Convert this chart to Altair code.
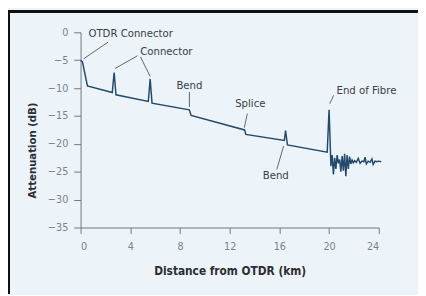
import altair as alt
import pandas as pd

# Trace (distance km, attenuation dB)
trace_km = [0.0, 0.15, 0.55, 2.55, 2.7, 2.85, 5.45, 5.6, 5.75, 8.75, 8.9,
            13.2, 13.3, 16.4, 16.5, 16.65, 19.85, 20.0,
            20.15, 20.25, 20.35, 20.45, 20.55, 20.65, 20.75, 20.85, 20.95,
            21.05, 21.15, 21.25, 21.35, 21.45, 21.55, 21.65, 21.75, 21.85,
            21.95, 22.05, 22.2, 22.35, 22.5, 22.65, 22.8, 22.9, 23.0, 23.15,
            23.3, 23.45, 23.55, 23.7, 23.85, 24.0, 24.2]
trace_db = [-5.0, -5.3, -9.6, -10.8, -7.2, -11.2, -12.4, -8.4, -12.7, -13.9, -14.9,
            -17.5, -18.3, -19.4, -17.6, -20.2, -21.5, -13.9,
            -24.0, -22.0, -25.5, -22.5, -24.5, -22.0, -23.5, -22.8, -25.0,
            -22.2, -24.8, -21.8, -25.8, -22.0, -24.5, -22.3, -23.6, -22.9,
            -23.4, -23.0, -23.3, -22.6, -23.5, -23.1, -23.2, -22.4, -23.6, -23.1,
            -23.3, -22.7, -23.7, -23.1, -23.2, -23.1, -23.2]

# Annotation labels
label_text = ["OTDR Connector", "Connector", "Bend", "Splice", "Bend", "End of Fibre"]
label_km = [0.63, 4.8, 8.76, 13.66, 15.71, 20.6]
label_db = [-0.4, -3.6, -9.7, -12.8, -25.85, -10.55]
label_align = ["left", "left", "center", "center", "center", "left"]

# Leader lines
lead_x1 = [0.24, 2.76, 4.82, 8.76, 13.42, 16.34, 20.05]
lead_y1 = [-4.75, -6.5, -4.4, -10.7, -14.6, -20.4, -12.8]
lead_x2 = [2.21, 4.58, 5.6, 8.76, 13.18, 15.79, 20.37]
lead_y2 = [-1.76, -4.2, -7.9, -13.4, -17.1, -24.6, -11.3]

x_ticks = [0, 4, 8, 12, 16, 20, 24]
y_ticks = [-35, -30, -25, -20, -15, -10, -5, 0]

FONT = "Liberation Sans Narrow, DejaVu Sans Condensed, sans-serif"

df_trace = pd.DataFrame({"km": trace_km, "db": trace_db})
df_lab = pd.DataFrame({"t": label_text, "km": label_km, "db": label_db, "a": label_align})
df_lead = pd.DataFrame({"x": lead_x1, "y": lead_y1, "x2": lead_x2, "y2": lead_y2})

xs = alt.Scale(domain=[0, 24], nice=False, zero=False)
ys = alt.Scale(domain=[-35, 0], nice=False, zero=False)

xaxis = alt.Axis(values=x_ticks, tickCount=7, title="Distance from OTDR (km)", grid=False, labelOverlap=False,
                 tickSize=6, labelPadding=7, domainColor="#6d7780", tickColor="#6d7780",
                 labelColor="#7a838c", labelFontSize=11, labelFont=FONT,
                 titleFont=FONT, titleFontSize=12, titleFontWeight="bold", titleColor="#2b2f33",
                 titleX=152, titleY=44, titleBaseline="middle", titleAnchor="middle", titleAlign="center")
yaxis = alt.Axis(values=y_ticks, tickCount=8, title="Attenuation (dB)", grid=False, labelOverlap=False,
                 tickSize=7, labelPadding=6, domainColor="#6d7780", tickColor="#6d7780",
                 labelColor="#7a838c", labelFontSize=11, labelFont=FONT, format="d",
                 titleFont=FONT, titleFontSize=11.5, titleFontWeight="bold", titleColor="#2b2f33",
                 titleX=-49, titleY=120, titleBaseline="middle", titleAlign="center", titleAngle=-90)

line = alt.Chart(df_trace).mark_line(color="#234a6c", strokeWidth=1.5).encode(
    x=alt.X("km:Q", scale=xs, axis=xaxis),
    y=alt.Y("db:Q", scale=ys, axis=yaxis),
    order="km:Q",
)

leads = alt.Chart(df_lead).mark_rule(color="#4a5560", strokeWidth=0.9).encode(
    x=alt.X("x:Q", scale=xs), y=alt.Y("y:Q", scale=ys), x2="x2:Q", y2="y2:Q")

txt_left = alt.Chart(df_lab).transform_filter("datum.a == 'left'").mark_text(
    align="left", baseline="middle", font=FONT, fontSize=11.5, color="#3a3f44").encode(
    x=alt.X("km:Q", scale=xs), y=alt.Y("db:Q", scale=ys), text="t:N")
txt_center = alt.Chart(df_lab).transform_filter("datum.a == 'center'").mark_text(
    align="center", baseline="middle", font=FONT, fontSize=11.5, color="#3a3f44").encode(
    x=alt.X("km:Q", scale=xs), y=alt.Y("db:Q", scale=ys), text="t:N")

# frame lines (top and left edge of the picture box)
frame_top = alt.Chart(df_trace).mark_rule(color="#111111", strokeWidth=2).encode(
    x=alt.value(-74), x2=alt.value(344), y=alt.value(-21))
frame_left = alt.Chart(df_trace).mark_rule(color="#111111", strokeWidth=2).encode(
    x=alt.value(-73), y=alt.value(-22), y2=alt.value(266))

chart = alt.layer(line, leads, txt_left, txt_center, frame_top, frame_left).properties(
    width=304, height=199,
    autosize=alt.AutoSizeParams(type="none"),
    padding={"left": 74, "top": 22, "right": 40, "bottom": 66},
    background="#ecf3f9",
).configure_view(stroke=None)

chart.save("out.html", embed_options={"renderer": "svg", "actions": False})
